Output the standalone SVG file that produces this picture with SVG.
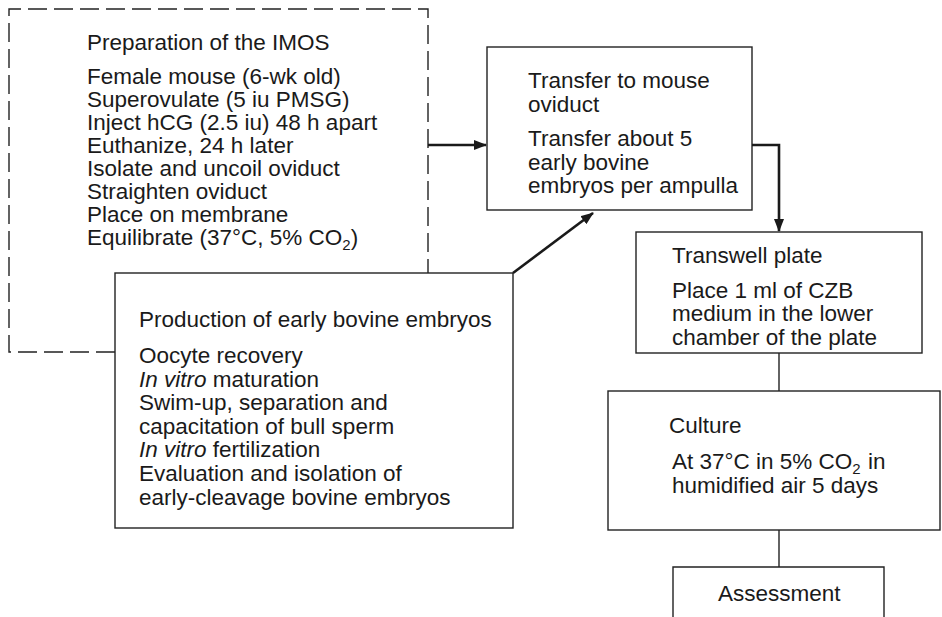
<svg xmlns="http://www.w3.org/2000/svg" width="942" height="617" viewBox="0 0 942 617">
<style>
text{font-family:"Liberation Sans",Arial,Helvetica,sans-serif;font-size:22.5px;fill:#1a1a1a}
.box{fill:#fff;stroke:#222;stroke-width:1.4}
.dash{fill:none;stroke:#222;stroke-width:1.4;stroke-dasharray:19 7}
.arr{fill:none;stroke:#1a1a1a;stroke-width:2.6}
.ln{fill:none;stroke:#222;stroke-width:1.4}
.sub{font-size:15px}
</style>
<defs>
<marker id="ah" viewBox="0 0 13 10" refX="12" refY="5" markerWidth="13" markerHeight="10" markerUnits="userSpaceOnUse" orient="auto">
<path d="M0,0 L13,5 L0,10 Z" fill="#1a1a1a"/>
</marker>
</defs>
<g id="imos">
<path class="dash" d="M115,352 L9,352 L9,9 L428,9 L428,273"/>
<text x="87" y="50">Preparation of the IMOS</text>
<text x="87" y="84">Female mouse (6-wk old)</text>
<text x="87" y="107">Superovulate (5 iu PMSG)</text>
<text x="87" y="130">Inject hCG (2.5 iu) 48 h apart</text>
<text x="87" y="153">Euthanize, 24 h later</text>
<text x="87" y="176">Isolate and uncoil oviduct</text>
<text x="87" y="199">Straighten oviduct</text>
<text x="87" y="222">Place on membrane</text>
<text x="87" y="245">Equilibrate (37°C, 5% CO<tspan class="sub" dy="5">2</tspan><tspan dy="-5">)</tspan></text>
</g>
<g id="production">
<rect class="box" x="115" y="273" width="398" height="255"/>
<text x="139" y="327">Production of early bovine embryos</text>
<text x="139" y="363">Oocyte recovery</text>
<text x="139" y="387"><tspan font-style="italic">In vitro</tspan> maturation</text>
<text x="139" y="410">Swim-up, separation and</text>
<text x="139" y="434">capacitation of bull sperm</text>
<text x="139" y="457"><tspan font-style="italic">In vitro</tspan> fertilization</text>
<text x="139" y="481">Evaluation and isolation of</text>
<text x="139" y="505">early-cleavage bovine embryos</text>
</g>
<g id="transfer">
<rect class="box" x="487" y="47" width="265" height="163"/>
<text x="528" y="88">Transfer to mouse</text>
<text x="528" y="112">oviduct</text>
<text x="528" y="146">Transfer about 5</text>
<text x="528" y="170">early bovine</text>
<text x="528" y="193">embryos per ampulla</text>
</g>
<g id="transwell">
<rect class="box" x="636" y="232" width="286" height="121"/>
<text x="672" y="263">Transwell plate</text>
<text x="672" y="298">Place 1 ml of CZB</text>
<text x="672" y="321">medium in the lower</text>
<text x="672" y="345">chamber of the plate</text>
</g>
<g id="culture">
<rect class="box" x="608" y="391" width="332" height="139"/>
<text x="669" y="433">Culture</text>
<text x="672" y="469">At 37°C in 5% CO<tspan class="sub" dy="5">2</tspan><tspan dx="1" dy="-5"> in</tspan></text>
<text x="672" y="493">humidified air 5 days</text>
</g>
<g id="assessment">
<path class="box" d="M673,617 L673,567 L884,567 L884,617" fill="none"/>
<text x="718" y="601">Assessment</text>
</g>
<g id="connectors">
<path class="arr" d="M428,145 L486,145" marker-end="url(#ah)"/>
<path class="arr" d="M513,273 L593,213" marker-end="url(#ah)"/>
<path class="arr" d="M752,145 L779,145 L779,231" marker-end="url(#ah)"/>
<path class="ln" d="M779,353 L779,391"/>
<path class="ln" d="M779,530 L779,567"/>
</g>
</svg>
